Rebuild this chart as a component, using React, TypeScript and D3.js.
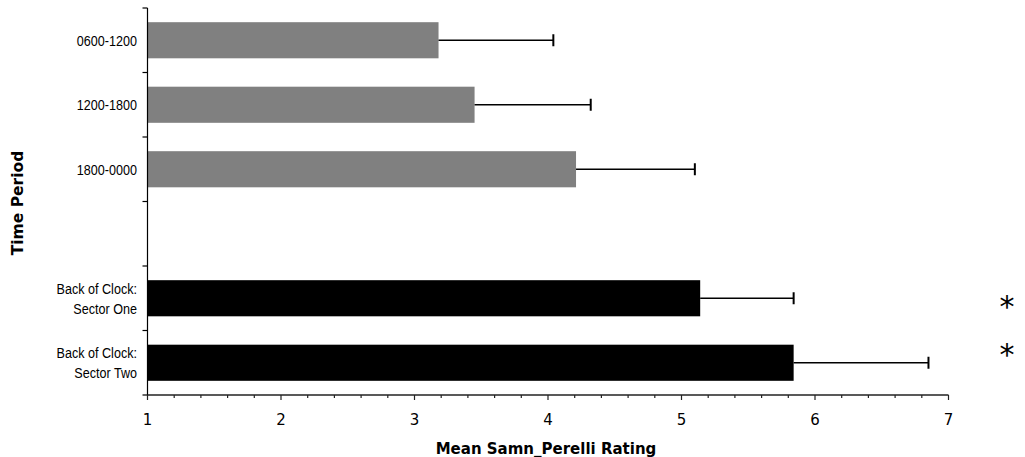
import React from "react";
import * as d3 from "d3";

const categories = ["0600-1200", "1200-1800", "1800-0000", "", "Back of Clock:\nSector One", "Back of Clock:\nSector Two"];
const means: (number | null)[] = [3.18, 3.45, 4.21, null, 5.14, 5.84];
const errors: (number | null)[] = [0.86, 0.87, 0.89, null, 0.70, 1.01];
const groups = ["time", "time", "time", "", "clock", "clock"];
const significant = [false, false, false, false, true, true];
const xTicks = [1, 2, 3, 4, 5, 6, 7];
const xTitle = "Mean Samn_Perelli Rating";
const yTitle = "Time Period";

const W = 1025, H = 457;
const left = 147.5, right = 948.5, top = 8, bottom = 395;
const colorOf: Record<string, string> = { time: "#808080", clock: "#000000" };

export default function App() {
  const x = d3.scaleLinear().domain([1, 7]).range([left, right]);
  const y = d3.scaleBand<string>().domain(categories).range([top, bottom]).paddingInner(0.44).paddingOuter(0.22);
  const step = y.step();
  const minor = d3.range(1, 7.0001, 0.2).map((v) => Math.round(v * 10) / 10).filter((v) => !xTicks.includes(v));
  const labelFont = "'Liberation Sans Narrow', 'Arial Narrow', 'Liberation Sans', sans-serif";
  const tickFont = "'DejaVu Sans', Verdana, sans-serif";
  const labelX = 137;
  return (
    <svg width={W} height={H} style={{ position: "absolute", left: 0, top: 0, background: "#fff" }}>
      {categories.map((c, i) => {
        const m = means[i];
        const e = errors[i];
        if (m == null || e == null) return null;
        const y0 = y(c)!;
        const cy = y0 + y.bandwidth() / 2;
        return (
          <g key={i}>
            <rect x={x(1)} y={y0} width={x(m) - x(1)} height={y.bandwidth()} fill={colorOf[groups[i]]} />
            <line x1={x(m)} x2={x(m + e)} y1={cy} y2={cy} stroke="#000" strokeWidth={1.5} />
            <line x1={x(m + e)} x2={x(m + e)} y1={cy - 6} y2={cy + 6} stroke="#000" strokeWidth={2} />
          </g>
        );
      })}
      {/* y axis */}
      <line x1={left} x2={left} y1={top} y2={bottom} stroke="#000" strokeWidth={1.2} />
      {d3.range(categories.length + 1).map((i) => (
        <line key={i} x1={left - 5} x2={left} y1={top + i * step} y2={top + i * step} stroke="#000" strokeWidth={1.2} />
      ))}
      <g transform={`translate(${labelX},0) scale(0.84,1)`}>
        {categories.map((c, i) => {
          const lines = c.split("\n").filter((s) => s.length);
          const cy = y(c)! + y.bandwidth() / 2;
          return (
            <text key={i} x={0} y={cy} textAnchor="end" fontFamily={labelFont} fontSize={15} fill="#000">
              {lines.map((l, j) => (
                <tspan key={j} x={0} y={cy + (j - (lines.length - 1) / 2) * 20} dominantBaseline="central">
                  {l}
                </tspan>
              ))}
            </text>
          );
        })}
      </g>
      {/* x axis */}
      <line x1={left} x2={right} y1={bottom} y2={bottom} stroke="#222" strokeWidth={1.5} />
      {xTicks.map((t) => (
        <g key={t}>
          <line x1={x(t)} x2={x(t)} y1={bottom} y2={bottom + 5} stroke="#222" strokeWidth={1.2} />
          <text x={x(t)} y={420} textAnchor="middle" dominantBaseline="central" fontFamily={tickFont} fontSize={15} fill="#000">
            {t}
          </text>
        </g>
      ))}
      {minor.map((t) => (
        <line key={t} x1={x(t)} x2={x(t)} y1={bottom} y2={bottom + 3} stroke="#222" strokeWidth={1.2} />
      ))}
      <text x={546} y={449} textAnchor="middle" dominantBaseline="central" fontFamily={tickFont} fontWeight="bold" fontSize={15} fill="#000">
        {xTitle}
      </text>
      <text transform={`translate(18,203) rotate(-90)`} textAnchor="middle" dominantBaseline="central" fontFamily={tickFont} fontWeight="bold" fontSize={15.5} fill="#000">
        {yTitle}
      </text>
      {categories.map((c, i) =>
        significant[i] ? (
          <text key={i} x={1007} y={y(c)! + y.bandwidth() / 2 + (i === 5 ? -12.6 : 4) + 15} textAnchor="middle" fontFamily={tickFont} fontSize={30} fill="#000">
            *
          </text>
        ) : null
      )}
    </svg>
  );
}
